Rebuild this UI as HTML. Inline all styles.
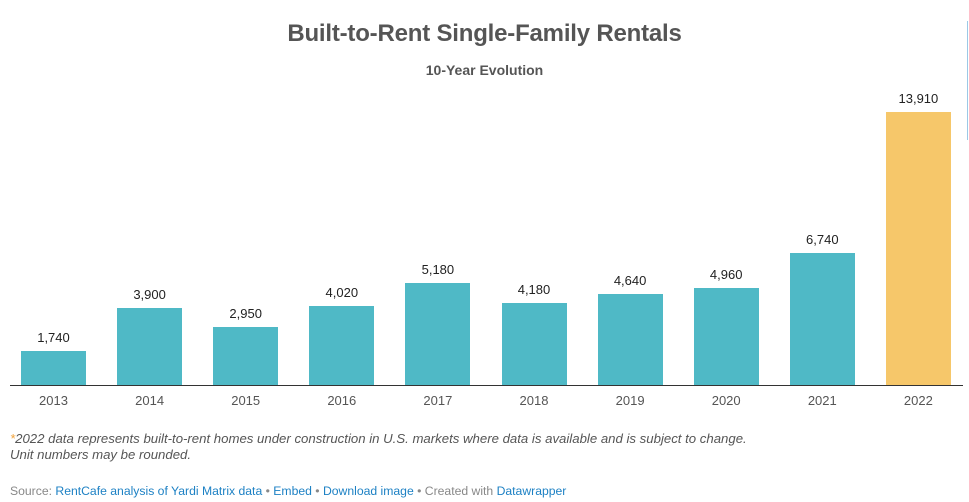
<!DOCTYPE html>
<html><head><meta charset="utf-8"><style>
body{margin:0;width:969px;height:502px;background:#fff;position:relative;overflow:hidden;font-family:"Liberation Sans",sans-serif;}
.a{position:absolute}
.bar{position:absolute;background:#4fb9c6;width:65px}
.v{position:absolute;width:96px;text-align:center;font-size:13px;color:#222}
.y{position:absolute;width:96px;text-align:center;font-size:13px;color:#555;top:393px}
</style></head><body>
<div class="a" style="left:0;width:969px;top:20px;text-align:center;font-size:24px;font-weight:bold;color:#555;letter-spacing:-0.2px">Built-to-Rent Single-Family Rentals</div>
<div class="a" style="left:0;width:969px;top:62px;text-align:center;font-size:14px;font-weight:bold;color:#555">10-Year Evolution</div>
<div class="a" style="left:967px;top:21px;width:1px;height:119px;background:#9cc8e6"></div>
<div class="a" style="left:10px;top:385px;width:953px;height:1px;background:#333"></div>
<div id="c"></div>
<div class="a" style="left:10px;top:431px;font-size:13.2px;font-style:italic;color:#555;line-height:16px"><span style="color:#f2a33a">*</span>2022 data represents built-to-rent homes under construction in U.S. markets where data is available and is subject to change.<br>Unit numbers may be rounded.</div>
<div class="a" style="left:10px;top:484px;font-size:12.2px;color:#888">Source: <span style="color:#1d81c4">RentCafe analysis of Yardi Matrix data</span> • <span style="color:#1d81c4">Embed</span> • <span style="color:#1d81c4">Download image</span> • Created with <span style="color:#1d81c4">Datawrapper</span></div>
<script>
var d=[[2013,1740],[2014,3900],[2015,2950],[2016,4020],[2017,5180],[2018,4180],[2019,4640],[2020,4960],[2021,6740],[2022,13910]];
var h='';
d.forEach(function(e,i){var l=21+i*96.1;var ht=e[1]*0.01963;var t=385-ht;
var col=i==9?'#f6c76a':'#4fb9c6';
h+='<div class="bar" style="left:'+l+'px;top:'+t+'px;height:'+ht+'px;background:'+col+'"></div>';
h+='<div class="v" style="left:'+(l-15.5)+'px;top:'+(t-21)+'px">'+e[1].toLocaleString('en-US')+'</div>';
h+='<div class="y" style="left:'+(l-15.5)+'px">'+e[0]+'</div>';});
document.getElementById('c').innerHTML=h;
</script>
</body></html>
